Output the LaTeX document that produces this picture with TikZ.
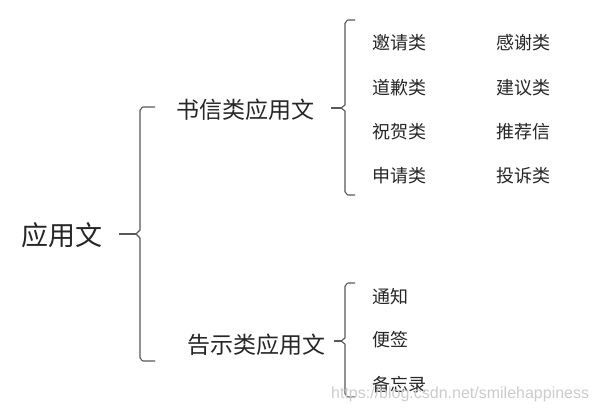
\documentclass[tikz,border=0pt]{standalone}
\usepackage{fontspec}
\setmainfont{Noto Sans CJK SC}
\newfontfamily\wmfont{Liberation Sans}
\begin{document}
\begin{tikzpicture}[x=1pt,y=-1pt,
  brc/.style={draw=black!65,line width=1.1pt,line join=round},
  big/.style={font=\fontsize{27}{27}\selectfont,anchor=west,inner sep=0pt,text=black!85},
  mid/.style={font=\fontsize{23}{23}\selectfont,anchor=west,inner sep=0pt,text=black!85},
  leaf/.style={font=\fontsize{18}{18}\selectfont,anchor=west,inner sep=0pt,text=black!85}]
\useasboundingbox (0,0) rectangle (597,412);
\fill[white] (0,0) rectangle (597,412);
% texts
\node[big] (root) at (21,235) {应用文};
\node[mid] (A) at (176,110) {书信类应用文};
\node[mid] (B) at (187,345) {告示类应用文};
\node[leaf] (a1) at (372,43) {邀请类};
\node[leaf] (a2) at (372,88) {道歉类};
\node[leaf] (a3) at (372,132) {祝贺类};
\node[leaf] (a4) at (372,176) {申请类};
\node[leaf] (b1) at (496,43) {感谢类};
\node[leaf] (b2) at (496,88) {建议类};
\node[leaf] (b3) at (496,132) {推荐信};
\node[leaf] (b4) at (496,176) {投诉类};
\node[leaf] (c1) at (372,297) {通知};
\node[leaf] (c2) at (372,340) {便签};
\node[leaf] (c3) at (372,385) {备忘录};
% brace tips
\coordinate (t0) at (136,234);
\coordinate (t1) at (341,108);
\coordinate (t2) at (341,341);
% big brace
\draw[brc] (155,107) -- (143,107) to[out=180,in=-90] (140,110) -- (140,230) -- (t0) -- (140,238) -- (140,358) to[out=90,in=180] (143,361) -- (155,361);
\draw[brc] (root.east) ++(17,-1) -- (t0);
% upper brace
\draw[brc] (355,20) -- (348,20) to[out=180,in=-90] (345,23) -- (345,105) -- (t1) -- (345,111) -- (345,192) to[out=90,in=180] (348,195) -- (355,195);
\draw[brc] (A.east) ++(17,-2) -- (t1);
% lower brace
\draw[brc] (355,283) -- (348,283) to[out=180,in=-90] (345,286) -- (345,338) -- (t2) -- (345,344) -- (345,394) to[out=90,in=180] (348,397) -- (355,397);
\draw[brc] (B.east) ++(9,-4) -- (t2);
% watermark
\node[font=\wmfont\fontsize{16}{16}\selectfont,text=black!20,anchor=west,inner sep=0pt] (wm) at (331,394) {https://blog.csdn.net/smilehappiness};
\end{tikzpicture}
\end{document}
